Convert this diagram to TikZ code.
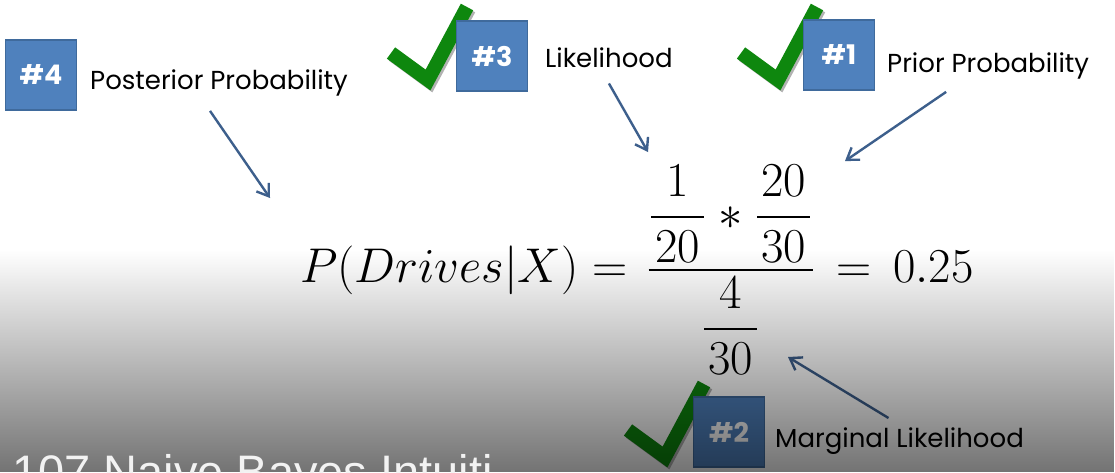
\documentclass[tikz,border=0pt]{standalone}
\usepackage{amsmath}
\usepackage{graphicx}
\usepackage{fontspec}
\newfontfamily\slidefont{Poppins}
\newfontfamily\playerfont{Liberation Sans}
\usetikzlibrary{arrows.meta,positioning,fadings}
\definecolor{SlideBlue}{HTML}{4F81BD}
\definecolor{SlideBlueEdge}{HTML}{3F6A9C}
\definecolor{PointerBlue}{HTML}{3D5F8C}
\definecolor{TickGreen}{HTML}{0E870E}
\tikzfading[name=playerfade, top color=transparent!100, middle color=transparent!62, bottom color=transparent!45]

\begin{document}
\begin{tikzpicture}[
    x=1pt, y=-1pt,
    numbox/.style={
      draw=SlideBlueEdge,
      line width=1.5pt,
      fill=SlideBlue,
      minimum width=71pt,
      minimum height=70pt,
      inner sep=0pt,
      text=white,
      font=\slidefont\bfseries\fontsize{27}{30}\selectfont
    },
    term/.style={anchor=base west, inner sep=0pt, font=\slidefont\fontsize{26}{30}\selectfont},
    pointer/.style={-{Straight Barb[length=11pt,width=15pt]}, line width=2.4pt, draw=PointerBlue},
    checkmark/.pic={
      \draw[black, opacity=.3, line width=14pt, shift={(2,2)}] (-37,-27) -- (0,0) -- (39,-73);
      \draw[TickGreen, line width=14pt] (-37,-27) -- (0,0) -- (39,-73);
    }
  ]
    \useasboundingbox (0,0) rectangle (1115,472);
    \clip (0,0) rectangle (1115,472);
    \fill[white] (0,0) rectangle (1115,472);

    % ticks sit behind the boxes
    \pic at (428,80) {checkmark};
    \pic at (778,80) {checkmark};
    \pic at (665,457) {checkmark};

    \node[numbox] (b4) at (41,75) {\#4};
    \node[numbox] (b3) at (492,56) {\#3};
    \node[numbox] (b1) at (839,55) {\#1};
    \node[numbox] (b2) at (729,432) {\#2};

    \node[term] (post) at (90,89) {Posterior Probability};
    \node[term] (lik) at (545,67) {Likelihood};
    \node[term] (prior) at (887,72) {Prior Probability};
    \node[term] (marg) at (775,447) {Marginal Likelihood};

    \node[anchor=base west, inner sep=0pt] (bayes) at (300,282)
      {\scalebox{1.96}{\Huge$P(Drives|X) =\mkern2mu \dfrac{\dfrac{1}{\mkern1.5mu 20\mkern1.5mu}\mkern0.5mu*\mkern0.5mu\dfrac{20}{\mkern1.5mu 30\mkern1.5mu}}{\dfrac{4}{\mkern1.5mu 30\mkern1.5mu}}\mkern3mu =\mkern3mu 0.25$}};

    \coordinate (postTip) at (270,198);
    \coordinate (likTip) at (648,152);
    \coordinate (priorTip) at (845,161);
    \coordinate (margTip) at (788,357);

    \draw[pointer] ([xshift=-9pt,yshift=-15pt]post.south) -- (postTip);
    \draw[pointer] ([yshift=-16pt]lik.south) -- (likTip);
    \draw[pointer] ([xshift=-42pt,yshift=-13pt]prior.south) -- (priorTip);
    \draw[pointer] ([xshift=-11pt,yshift=9pt]marg.north) -- (margTip);

    % player overlay
    \fill[black, path fading=playerfade] (0,250) rectangle (1115,472);
    \node[anchor=base west, inner sep=0pt, text=white!95!black, font=\playerfont\fontsize{47}{50}\selectfont] (title) at (12,488) {107 Naive Bayes Intuiti};
  \end{tikzpicture}
\end{document}
